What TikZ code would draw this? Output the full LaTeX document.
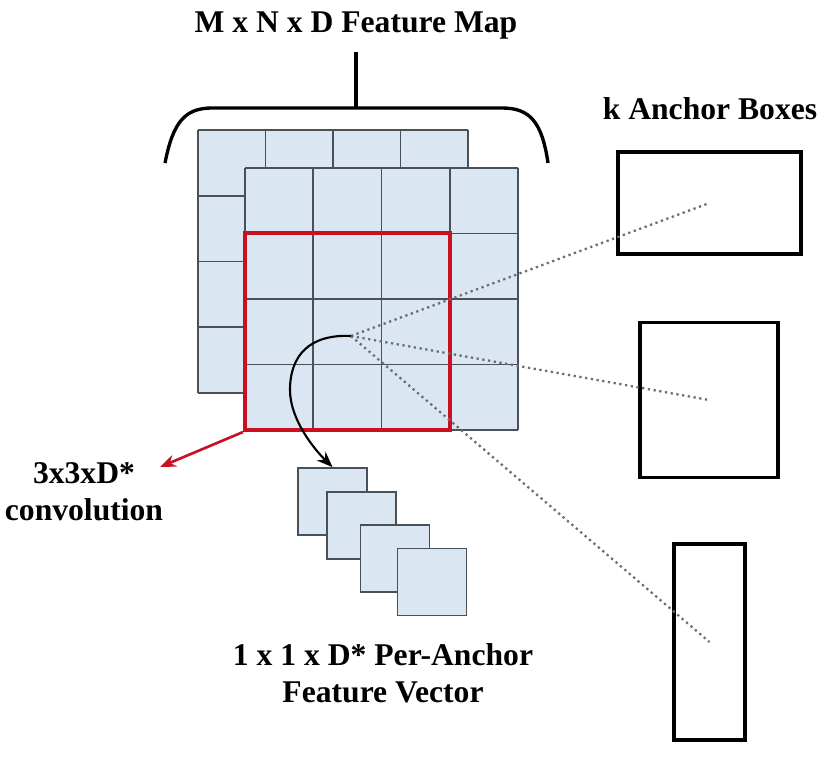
\documentclass[tikz,border=0pt]{standalone}
\usepackage{fontspec}
\setmainfont{Liberation Serif}
\usetikzlibrary{arrows.meta}
\definecolor{cellblue}{RGB}{218,230,241}
\definecolor{gridgray}{RGB}{75,80,86}
\definecolor{convred}{RGB}{200,16,32}
\definecolor{dotgray}{RGB}{110,110,110}
\tikzset{
    cell/.style={draw=gridgray, fill=cellblue, line width=1pt, minimum width=1.38cm, minimum height=1.34cm, inner sep=0pt},
    gridline/.style={gridgray, line width=1.1pt},
    anchorbox/.style={draw=black, line width=2.2pt, inner sep=0pt},
    labeltext/.style={font=\bfseries\fontsize{18}{21}\selectfont, align=center, inner sep=0pt},
    ray/.style={dotgray, dotted, line width=1.3pt}
}

\begin{document}
\begin{tikzpicture}[x=0.02cm, y=-0.02cm]
            \useasboundingbox (0,0) rectangle (825,764);

            \node[labeltext, anchor=base] (title) at (356,32) {M x N x D Feature Map};
            \draw[line width=1.9pt] (165,163) .. controls (173,122) and (185,108) .. (212,108) -- (502,108) .. controls (530,108) and (542,122) .. (548,163);
            \draw[line width=1.9pt] (356,108) -- (356,52);

            \fill[cellblue] (198,130) rectangle (468,393);
            \foreach \i in {0,...,4}
                {
                    \draw[gridline] (198+\i*67.5,130) -- (198+\i*67.5,393);
                    \draw[gridline] (198,130+\i*65.75) -- (468,130+\i*65.75);
                }

            \fill[cellblue] (245,168) rectangle (518,430);
            \foreach \i in {0,...,4}
                {
                    \draw[gridline] (245+\i*68.25,168) -- (245+\i*68.25,430);
                    \draw[gridline] (245,168+\i*65.5) -- (518,168+\i*65.5);
                }

            \node[draw=convred, line width=2.3pt, minimum width=4.1cm, minimum height=3.94cm, inner sep=0pt] (window) at (347.5,331.5) {};
            \coordinate (c) at (351,336);

            \node[labeltext, anchor=base] (ktitle) at (710,119) {k Anchor Boxes};
            \node[anchorbox, minimum width=3.66cm, minimum height=2.04cm] (a1) at (709.5,203) {};
            \node[anchorbox, minimum width=2.76cm, minimum height=3.1cm] (a2) at (709,400) {};
            \node[anchorbox, minimum width=1.42cm, minimum height=3.92cm] (a3) at (709.5,642) {};

            \foreach \a in {a1, a2, a3}
                {
                    \draw[ray] (c) -- (\a.center);
                }

            \node[cell] (v1) at (332.5,501.5) {};
            \node[cell] (v2) at (361.5,525.5) {};
            \node[cell] (v3) at (395,558.5) {};
            \node[cell] (v4) at (432,582) {};

            \draw[line width=1.2pt, -{Stealth[length=9pt, width=7pt]}] (c) .. controls (310,334) and (290,355) .. (290,390) .. controls (290,420) and (315,450) .. (v1.north);

            \coordinate (convtip) at (160,467);
            \draw[convred, line width=1.5pt, -{Stealth[length=9pt, width=7pt]}] (window.south west) -- (convtip);
            \node[labeltext] (conv) at (84,492) {3x3xD*\\convolution};

            \node[labeltext] (fv) at (383,673) {1 x 1 x D* Per-Anchor\\Feature Vector};
        \end{tikzpicture}
\end{document}
